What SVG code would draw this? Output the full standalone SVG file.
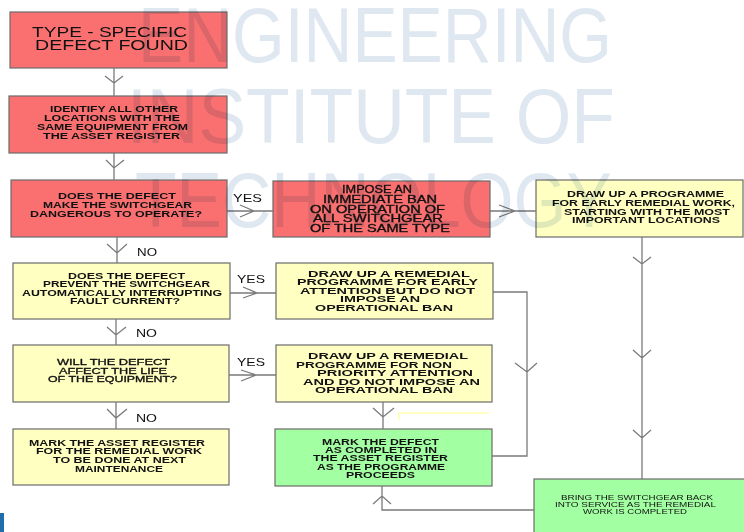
<svg xmlns="http://www.w3.org/2000/svg" width="744" height="532" viewBox="0 0 744 532">
<style>
.box{stroke:#6b6b6b;stroke-width:1.2}
.red{fill:#fa7070}
.yel{fill:#ffffc2}
.grn{fill:#a2ffa2}
.c{fill:none;stroke:#7a7a7a;stroke-width:1.3}
.t{font-family:"Liberation Sans",Arial,sans-serif;fill:#111}
.b{font-weight:bold}
.h{stroke:#111;stroke-width:0.35}
.lbl{font-family:"Liberation Sans",Arial,sans-serif;fill:#111;font-size:11.5px}
.wm{font-family:"Liberation Sans",Arial,sans-serif;font-size:78px;fill:#dfe8f1;mix-blend-mode:multiply}
</style>
<rect width="744" height="532" fill="#ffffff"/>
<rect x="0" y="513" width="4" height="19" fill="#1f6fae"/>

<g id="n1">
<rect class="box red" x="10" y="12" width="217" height="56"/>
<text class="t" font-size="14"><tspan x="32" y="37" textLength="155" lengthAdjust="spacingAndGlyphs">TYPE - SPECIFIC</tspan><tspan x="35" y="50" textLength="153" lengthAdjust="spacingAndGlyphs">DEFECT FOUND</tspan></text>
</g>
<g id="n2">
<rect class="box red" x="9" y="96" width="218" height="57"/>
<text class="t b" font-size="8.5"><tspan x="50" y="112" textLength="128" lengthAdjust="spacingAndGlyphs">IDENTIFY ALL OTHER</tspan><tspan x="44" y="121" textLength="136" lengthAdjust="spacingAndGlyphs">LOCATIONS WITH THE</tspan><tspan x="37" y="130" textLength="151" lengthAdjust="spacingAndGlyphs">SAME EQUIPMENT FROM</tspan><tspan x="43" y="138.5" textLength="137" lengthAdjust="spacingAndGlyphs">THE ASSET REGISTER</tspan></text>
</g>
<g id="n3">
<rect class="box red" x="11" y="180" width="216" height="57"/>
<text class="t b" font-size="8.5"><tspan x="58" y="199" textLength="118" lengthAdjust="spacingAndGlyphs">DOES THE DEFECT</tspan><tspan x="43" y="208" textLength="149" lengthAdjust="spacingAndGlyphs">MAKE THE SWITCHGEAR</tspan><tspan x="30" y="217" textLength="172" lengthAdjust="spacingAndGlyphs">DANGEROUS TO OPERATE?</tspan></text>
</g>
<g id="n4">
<rect class="box red" x="273" y="181" width="217" height="56"/>
<text class="t h" font-size="10.5"><tspan x="342" y="193" textLength="70" lengthAdjust="spacingAndGlyphs">IMPOSE AN</tspan><tspan x="323" y="202.5" textLength="114" lengthAdjust="spacingAndGlyphs">IMMEDIATE BAN</tspan><tspan x="310" y="212.5" textLength="135" lengthAdjust="spacingAndGlyphs">ON OPERATION OF</tspan><tspan x="313" y="222" textLength="130" lengthAdjust="spacingAndGlyphs">ALL SWITCHGEAR</tspan><tspan x="310" y="232" textLength="140" lengthAdjust="spacingAndGlyphs">OF THE SAME TYPE</tspan></text>
</g>
<g id="n5">
<rect class="box yel" x="536" y="180" width="207" height="57"/>
<text class="t b" font-size="8.5"><tspan x="567" y="197" textLength="157" lengthAdjust="spacingAndGlyphs">DRAW UP A PROGRAMME</tspan><tspan x="552" y="206" textLength="183" lengthAdjust="spacingAndGlyphs">FOR EARLY REMEDIAL WORK,</tspan><tspan x="564" y="214.5" textLength="166" lengthAdjust="spacingAndGlyphs">STARTING WITH THE MOST</tspan><tspan x="572" y="223" textLength="148" lengthAdjust="spacingAndGlyphs">IMPORTANT LOCATIONS</tspan></text>
</g>
<g id="n6">
<rect class="box yel" x="13" y="263" width="217" height="56"/>
<text class="t b" font-size="8.5"><tspan x="68" y="278.5" textLength="117" lengthAdjust="spacingAndGlyphs">DOES THE DEFECT</tspan><tspan x="43" y="287" textLength="167" lengthAdjust="spacingAndGlyphs">PREVENT THE SWITCHGEAR</tspan><tspan x="22" y="295.5" textLength="200" lengthAdjust="spacingAndGlyphs">AUTOMATICALLY INTERRUPTING</tspan><tspan x="70" y="304" textLength="110" lengthAdjust="spacingAndGlyphs">FAULT CURRENT?</tspan></text>
</g>
<g id="n7">
<rect class="box yel" x="276" y="263" width="217" height="56"/>
<text class="t b" font-size="8.5"><tspan x="308" y="276.5" textLength="162" lengthAdjust="spacingAndGlyphs">DRAW UP A REMEDIAL</tspan><tspan x="297" y="285" textLength="181" lengthAdjust="spacingAndGlyphs">PROGRAMME FOR EARLY</tspan><tspan x="300" y="293.5" textLength="175" lengthAdjust="spacingAndGlyphs">ATTENTION BUT DO NOT</tspan><tspan x="340" y="302" textLength="80" lengthAdjust="spacingAndGlyphs">IMPOSE AN</tspan><tspan x="315" y="310.5" textLength="138" lengthAdjust="spacingAndGlyphs">OPERATIONAL BAN</tspan></text>
</g>
<g id="n8">
<rect class="box yel" x="13" y="345" width="216" height="57"/>
<text class="t h" font-size="9.5"><tspan x="57" y="365" textLength="113" lengthAdjust="spacingAndGlyphs">WILL THE DEFECT</tspan><tspan x="59" y="373.5" textLength="108" lengthAdjust="spacingAndGlyphs">AFFECT THE LIFE</tspan><tspan x="48" y="381.5" textLength="129" lengthAdjust="spacingAndGlyphs">OF THE EQUIPMENT?</tspan></text>
</g>
<g id="n9">
<rect class="box yel" x="276" y="345" width="216" height="57"/>
<text class="t b" font-size="8.5"><tspan x="308" y="359" textLength="160" lengthAdjust="spacingAndGlyphs">DRAW UP A REMEDIAL</tspan><tspan x="296" y="367.5" textLength="156" lengthAdjust="spacingAndGlyphs">PROGRAMME FOR NON</tspan><tspan x="317" y="376" textLength="156" lengthAdjust="spacingAndGlyphs">PRIORITY ATTENTION</tspan><tspan x="303" y="384.5" textLength="177" lengthAdjust="spacingAndGlyphs">AND DO NOT IMPOSE AN</tspan><tspan x="315" y="393" textLength="138" lengthAdjust="spacingAndGlyphs">OPERATIONAL BAN</tspan></text>
</g>
<g id="n10">
<rect class="box yel" x="13" y="429" width="216" height="56"/>
<text class="t b" font-size="8.5"><tspan x="29" y="445.5" textLength="176" lengthAdjust="spacingAndGlyphs">MARK THE ASSET REGISTER</tspan><tspan x="36" y="454" textLength="166" lengthAdjust="spacingAndGlyphs">FOR THE REMEDIAL WORK</tspan><tspan x="53" y="462.5" textLength="133" lengthAdjust="spacingAndGlyphs">TO BE DONE AT NEXT</tspan><tspan x="75" y="471.5" textLength="88" lengthAdjust="spacingAndGlyphs">MAINTENANCE</tspan></text>
</g>
<g id="n11">
<rect class="box grn" x="275" y="429" width="217" height="57"/>
<text class="t b" font-size="8.5"><tspan x="322" y="444.5" textLength="117" lengthAdjust="spacingAndGlyphs">MARK THE DEFECT</tspan><tspan x="325" y="453" textLength="112" lengthAdjust="spacingAndGlyphs">AS COMPLETED IN</tspan><tspan x="313" y="461" textLength="135" lengthAdjust="spacingAndGlyphs">THE ASSET REGISTER</tspan><tspan x="317" y="469.5" textLength="128" lengthAdjust="spacingAndGlyphs">AS THE PROGRAMME</tspan><tspan x="346" y="478" textLength="69" lengthAdjust="spacingAndGlyphs">PROCEEDS</tspan></text>
</g>
<g id="n12">
<rect class="box grn" x="534" y="479" width="212" height="60"/>
<text class="t" font-size="8"><tspan x="561" y="499.5" textLength="152" lengthAdjust="spacingAndGlyphs">BRING THE SWITCHGEAR BACK</tspan><tspan x="555" y="506.5" textLength="161" lengthAdjust="spacingAndGlyphs">INTO SERVICE AS THE REMEDIAL</tspan><tspan x="583" y="513.5" textLength="104" lengthAdjust="spacingAndGlyphs">WORK IS COMPLETED</tspan></text>
</g>

<g id="connectors">
<path class="c" d="M114 68V96M105 76L114 83L123 76"/>
<path class="c" d="M114 153V180M106 160L114 168L124 160"/>
<path class="c" d="M117 237V263M107 244L117 253L127 244"/>
<path class="c" d="M116 319V345M107 327L116 335L126 327"/>
<path class="c" d="M116 402V429M107 409L116 418L127 409"/>
<path class="c" d="M227 211H273M240 205L254 211L240 217"/>
<path class="c" d="M230 293H276M243 287L257 293L243 298"/>
<path class="c" d="M229 375H276M241 370L256 375L241 381"/>
<path class="c" d="M490 211H536M499 205L515 211L499 217"/>
<path class="c" d="M642 237V479M633 257L642 264L651 257M633 350L642 358L651 350M633 430L642 438L651 430"/>
<path class="c" d="M493 292H527V456H492M515 363L527 372L537 363"/>
<path class="c" d="M383 402V429M373 408L383 417L394 408"/>
<path class="c" d="M534 510H382V486M373 504L382 496L391 504"/>
<path fill="none" stroke="#ffffc4" stroke-width="2" d="M399 420V413H489"/>
<text class="lbl" x="233" y="202" textLength="29" lengthAdjust="spacingAndGlyphs">YES</text>
<text class="lbl" x="237" y="283" textLength="28" lengthAdjust="spacingAndGlyphs">YES</text>
<text class="lbl" x="237" y="366" textLength="28" lengthAdjust="spacingAndGlyphs">YES</text>
<text class="lbl" x="137" y="256" textLength="20" lengthAdjust="spacingAndGlyphs">NO</text>
<text class="lbl" x="136" y="337" textLength="21" lengthAdjust="spacingAndGlyphs">NO</text>
<text class="lbl" x="136" y="422" textLength="21" lengthAdjust="spacingAndGlyphs">NO</text>
</g>

<g id="watermark">
<text class="wm" x="138" y="62" textLength="474" lengthAdjust="spacingAndGlyphs">ENGINEERING</text>
<text class="wm" x="127" y="143" textLength="488" lengthAdjust="spacingAndGlyphs">INSTITUTE OF</text>
<text class="wm" x="135" y="227" textLength="477" lengthAdjust="spacingAndGlyphs">TECHNOLOGY</text>
</g>
</svg>
